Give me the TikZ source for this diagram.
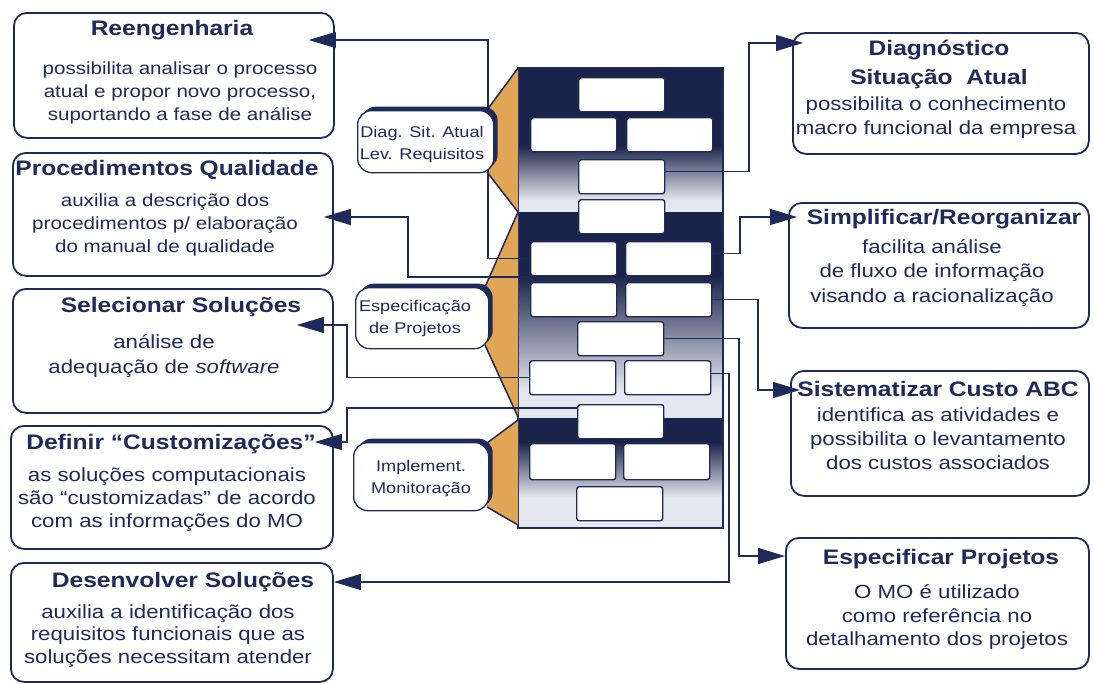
\documentclass[tikz,border=0pt]{standalone}
\usepackage{fontspec}
\setmainfont{Liberation Sans}[FakeStretch=1.17]
\usetikzlibrary{arrows.meta,shadows}
\definecolor{navy}{HTML}{1E2A5A}
\definecolor{deep}{HTML}{1A2349}
\definecolor{tan}{HTML}{E1A556}
\definecolor{mist}{HTML}{E4E7EE}

\begin{document}
\begin{tikzpicture}[x=1pt,y=-1pt,
  infobox/.style={draw=navy, line width=1.8pt, rounded corners=13pt, fill=white,
    anchor=north west, inner sep=0pt},
  cell/.style={draw=navy, line width=1.4pt, fill=white, rounded corners=2.5pt,
    anchor=north west, inner sep=0pt, minimum width=86pt, minimum height=34pt},
  pill/.style={draw=navy, line width=1.3pt, fill=white, rounded corners=14pt,
    anchor=north west, inner sep=0pt,
    drop shadow={shadow xshift=4pt, shadow yshift=4pt, fill=navy, opacity=1}},
  pilltext/.style={text=navy, align=center, inner sep=0pt,
    font=\fontsize{15.5}{22}\selectfont},
  ttl/.style={text=navy, align=center, inner sep=0pt, yshift=-2pt,
    font=\bfseries\fontsize{21}{29}\selectfont},
  bodyS/.style={text=navy, align=center, inner sep=0pt,
    font=\fontsize{17.6}{22.6}\selectfont},
  bodyL/.style={text=navy, align=center, inner sep=0pt,
    font=\fontsize{19}{23}\selectfont},
  bodyR/.style={text=navy, align=center, inner sep=0pt,
    font=\fontsize{19}{24.5}\selectfont},
  conn/.style={draw=navy, line width=1.3pt, -{Triangle[length=27pt,width=16pt]}},
  funnel/.style={draw=navy, line width=1.5pt}
]
\useasboundingbox (0,0) rectangle (1094,683);
\fill[white] (0,0) rectangle (1094,683);

% --- central column: three shaded panels ---
\fill[deep] (518,68) rectangle (723,145);
\shade[top color=deep, bottom color=mist] (518,145) rectangle (723,200);
\fill[mist] (518,200) rectangle (723,212);
\fill[deep] (518,212) rectangle (723,275);
\shade[top color=deep, bottom color=mist] (518,275) rectangle (723,390);
\fill[mist] (518,390) rectangle (723,418);
\fill[deep] (518,418) rectangle (723,442);
\shade[top color=deep, bottom color=mist] (518,442) rectangle (723,497);
\fill[mist] (518,497) rectangle (723,528);
\draw[navy, line width=1.2pt] (518,68) rectangle (723,528);

% --- funnels joining the phase labels to the panels ---
\fill[tan] (518,68) -- (487,110) -- (487,172) -- (518,212) -- cycle;
\draw[funnel] (518,68) -- (487,110) (487,172) -- (518,212);
\fill[tan] (518,212) -- (485,287) -- (485,345) -- (518,417) -- cycle;
\draw[funnel] (518,212) -- (485,287) (485,345) -- (518,417);
\fill[tan] (518,420) -- (487,443) -- (487,507) -- (518,525) -- cycle;
\draw[funnel] (518,420) -- (487,443) (487,507) -- (518,525);

% --- cells of the panels ---
\node[cell] (A1) at (578,77) {};
\node[cell] (A2) at (530,117) {};
\node[cell] (A3) at (626,117) {};
\node[cell] (A4) at (578,159) {};
\node[cell] (A5) at (578,199) {};
\node[cell] (B1) at (530,241) {};
\node[cell] (B2) at (625,241) {};
\node[cell] (B3) at (530,282) {};
\node[cell] (B4) at (625,282) {};
\node[cell] (B5) at (577,321) {};
\node[cell] (B6) at (529,360) {};
\node[cell] (B7) at (624,360) {};
\node[cell] (C1) at (577,404) {};
\node[cell, minimum height=36pt] (C2) at (529,443) {};
\node[cell, minimum height=36pt] (C3) at (623,443) {};
\node[cell] (C4) at (576,486) {};

% --- description boxes ---
\node[infobox, minimum width=320pt, minimum height=125pt] (reeng) at (13,12) {};
\node[infobox, minimum width=320pt, minimum height=123pt] (proc) at (12,152) {};
\node[infobox, minimum width=320pt, minimum height=124pt] (sel) at (12,288) {};
\node[infobox, minimum width=322pt, minimum height=123pt] (defi) at (10,425) {};
\node[infobox, minimum width=322pt, minimum height=119pt] (desen) at (10,562) {};
\node[infobox, minimum width=296pt, minimum height=121pt] (diag) at (792,32) {};
\node[infobox, minimum width=300pt, minimum height=125pt] (simp) at (788,202) {};
\node[infobox, minimum width=298pt, minimum height=125pt] (sist) at (790,370) {};
\node[infobox, minimum width=303pt, minimum height=131pt] (espec) at (785,537) {};

% --- connectors ---
\coordinate (r1) at (488,40);
\draw[conn, shorten >=-26pt] (B1.west) -| (r1) -- (r1 -| reeng.east);
\coordinate (p1c) at (408,217);
\draw[conn, shorten >=-10pt] ([yshift=5pt]B3.north west) -| (p1c) -- (p1c -| proc.east);
\coordinate (s1) at (347,325);
\draw[conn, shorten >=-37pt] (B6.west) -| (s1) -- (s1 -| sel.east);
\coordinate (d1) at (347,442);
\draw[conn, shorten >=-19pt] ([yshift=-4pt]C1.north west) -| (d1) -- (d1 -| defi.east);
\coordinate (v1) at (729,582);
\draw[conn] ([yshift=4pt]B7.east) -| (v1) -- (v1 -| desen.east);
\coordinate (g1) at (749,43);
\draw[conn, shorten >=-11pt] ([yshift=5pt]A4.east) -| (g1) -- (g1 -| diag.west);
\coordinate (m1) at (740,217);
\draw[conn, shorten >=-9pt] ([yshift=5pt]B2.east) -| (m1) -- (m1 -| simp.west);
\coordinate (t1) at (758,390);
\draw[conn, shorten >=-10pt] (B4.east) -| (t1) -- (t1 -| sist.west);
\coordinate (e1) at (739,556);
\draw[conn] (B5.east) -| (e1) -- (e1 -| espec.west);

% --- phase labels ---
\node[pill, minimum width=136pt, minimum height=62pt] (ph1) at (357,110) {};
\node[pilltext] (ph1T) at (422,144) {Diag. Sit. Atual\\Lev. Requisitos};
\node[pill, minimum width=133pt, minimum height=61pt] (ph2) at (355,287) {};
\node[pilltext] (ph2T) at (415,318) {Especificação\\de Projetos};
\node[pill, minimum width=135pt, minimum height=68pt] (ph3) at (353,442) {};
\node[pilltext] (ph3T) at (421,479) {Implement.\\Monitoração};

% --- texts of the left boxes ---
\node[ttl] (reengT) at (172,28) {Reengenharia};
\node[bodyS] (reengB) at (180,93)
  {possibilita analisar o processo\\atual e propor novo processo,\\suportando a fase de análise};
\node[ttl] (procT) at (167,168) {Procedimentos Qualidade};
\node[bodyS] (procB) at (165,225)
  {auxilia a descrição dos\\procedimentos p/ elaboração\\do manual de qualidade};
\node[ttl] (selT) at (181,305) {Selecionar Soluções};
\node[bodyL, font=\fontsize{19}{25}\selectfont] (selB) at (164,356)
  {análise de\\adequação de \textit{software}};
\node[ttl] (defiT) at (171,442) {Definir “Customizações”};
\node[bodyL] (defiB) at (167,500)
  {as soluções computacionais\\são “customizadas” de acordo\\com as informações do MO};
\node[ttl] (desenT) at (183,580) {Desenvolver Soluções};
\node[bodyL, font=\fontsize{19}{22.5}\selectfont] (desenB) at (168,636)
  {auxilia a identificação dos\\requisitos funcionais que as\\soluções necessitam atender};

% --- texts of the right boxes ---
\node[ttl] (diagT) at (939,62.5) {Diagnóstico\\Situação\ \ Atual};
\node[bodyR] (diagB) at (936,117.5)
  {possibilita o conhecimento\\macro funcional da empresa};
\node[ttl] (simpT) at (944,217) {Simplificar/Reorganizar};
\node[bodyR] (simpB) at (932,273)
  {facilita análise\\de fluxo de informação\\visando a racionalização};
\node[ttl] (sistT) at (938,387) {Sistematizar Custo ABC};
\node[bodyR, font=\fontsize{19}{24}\selectfont] (sistB) at (938,439)
  {identifica as atividades e\\possibilita o levantamento\\dos custos associados};
\node[ttl] (especT) at (941,557) {Especificar Projetos};
\node[bodyR, font=\fontsize{19}{23.5}\selectfont] (especB) at (937,617)
  {O MO é utilizado\\como referência no\\detalhamento dos projetos};
\end{tikzpicture}
\end{document}
